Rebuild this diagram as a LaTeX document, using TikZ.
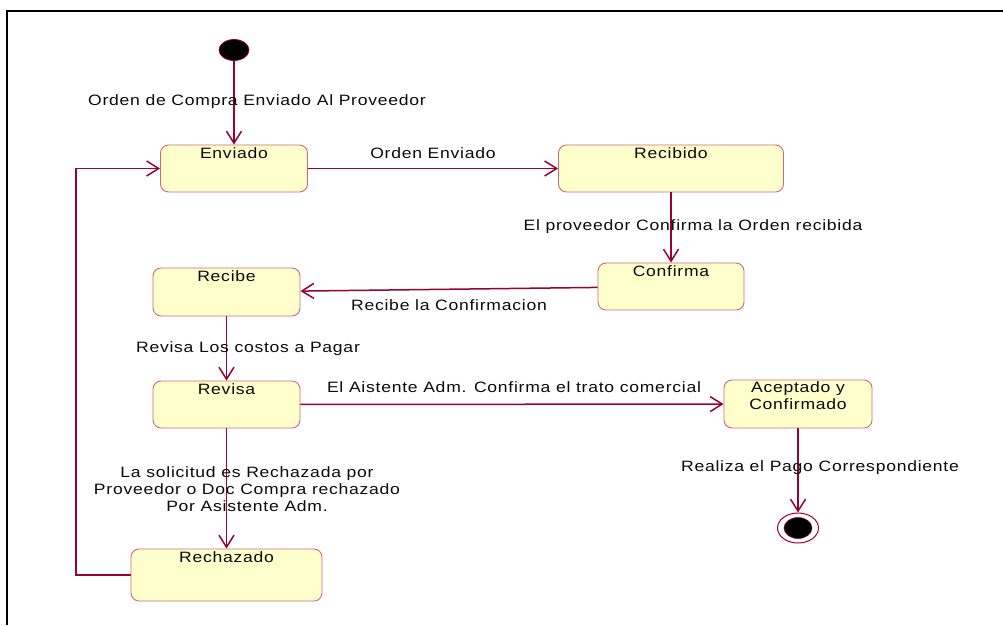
\documentclass[tikz,border=0pt]{standalone}
\usepackage{fontspec}
\setmainfont{Liberation Sans}[FakeStretch=1.17, LetterSpace=5]
\usetikzlibrary{arrows.meta,shapes.geometric}
\definecolor{wire}{RGB}{153,0,51}
\definecolor{stateedge}{RGB}{205,105,125}
\definecolor{statefill}{RGB}{255,255,204}
\definecolor{ink}{RGB}{10,10,10}

\begin{document}
\begin{tikzpicture}[x=1pt,y=-1pt,
  every node/.style={font=\fontsize{15}{17}\selectfont, text=ink},
  state/.style={draw=stateedge, fill=statefill, rounded corners=8pt,
    line width=0.9pt, inner sep=0pt},
  statename/.style={anchor=north, inner sep=2.5pt, align=center},
  flow/.style={draw=wire, line width=1.5pt,
    -{Straight Barb[length=12pt,width=15pt]}},
  tag/.style={inner sep=0pt, align=center},
  pseudostart/.style={ellipse, fill=black, draw=wire, line width=0.8pt,
    minimum width=30pt, minimum height=21pt, inner sep=0pt},
]
\useasboundingbox (0,0) rectangle (1003,625);

% frame
\draw[line width=2.2pt, black] (7,625) -- (7,11) -- (1003,11);

% states
\node[state, minimum width=147pt, minimum height=47pt,
  label={[statename]north:Enviado}] (enviado) at (234,168.5) {};
\node[state, minimum width=225pt, minimum height=47pt,
  label={[statename]north:Recibido}] (recibido) at (671,168.5) {};
\node[state, minimum width=146pt, minimum height=47pt,
  label={[statename]north:Confirma}] (confirma) at (671,286.5) {};
\node[state, minimum width=147pt, minimum height=48pt,
  label={[statename]north:Recibe}] (recibe) at (226.5,292) {};
\node[state, minimum width=147pt, minimum height=47pt,
  label={[statename]north:Revisa}] (revisa) at (226.5,404.5) {};
\node[state, minimum width=148pt, minimum height=48pt,
  label={[statename, inner sep=1.5pt]north:Aceptado y\\Confirmado}] (aceptado) at (798,404) {};
\node[state, minimum width=191pt, minimum height=52pt,
  label={[statename]north:Rechazado}] (rechazado) at (226.5,575) {};

% initial and final pseudo-states
\node[pseudostart] (start) at (234,50) {};
\node[ellipse, draw=wire, line width=1pt, minimum width=41pt,
  minimum height=30pt, inner sep=0pt] (finish) at (798,528) {};
\node[ellipse, fill=black, draw=wire, line width=0.6pt, minimum width=28pt,
  minimum height=21pt, inner sep=0pt] (finishcore) at (finish) {};

% transitions
\draw[flow] (start) -- (enviado);
\draw[flow] (enviado) -- (recibido);
\draw[flow] (recibido.south -| confirma.north) -- (confirma.north);
\draw[flow] (confirma) -- (recibe);
\draw[flow] (recibe) -- (revisa);
\draw[flow] (revisa) -- (aceptado);
\draw[flow] (revisa) -- (rechazado);
\draw[flow] (aceptado) -- (finish);
\coordinate (loopx) at (76,0);
\draw[flow] (rechazado.west) -- (rechazado.west -| loopx) |- (enviado.west);

% transition labels
\node[tag] (t1) at (257,102) {Orden de Compra Enviado Al Proveedor};
\node[tag] (t2) at (433,153) {Orden Enviado};
\node[tag] (t3) at (693,227) {El proveedor Confirma la Orden recibida};
\node[tag] (t4) at (449,305) {Recibe la Confirmacion};
\node[tag] (t5) at (248,349) {Revisa Los costos a Pagar};
\node[tag] (t6) at (514,387) {El Aistente Adm. Confirma el trato comercial};
\node[tag] (t7) at (247,489) {La solicitud es Rechazada por\\Proveedor o Doc Compra rechazado\\Por Asistente Adm.};
\node[tag] (t8) at (820,468) {Realiza el Pago Correspondiente};
\end{tikzpicture}
\end{document}
